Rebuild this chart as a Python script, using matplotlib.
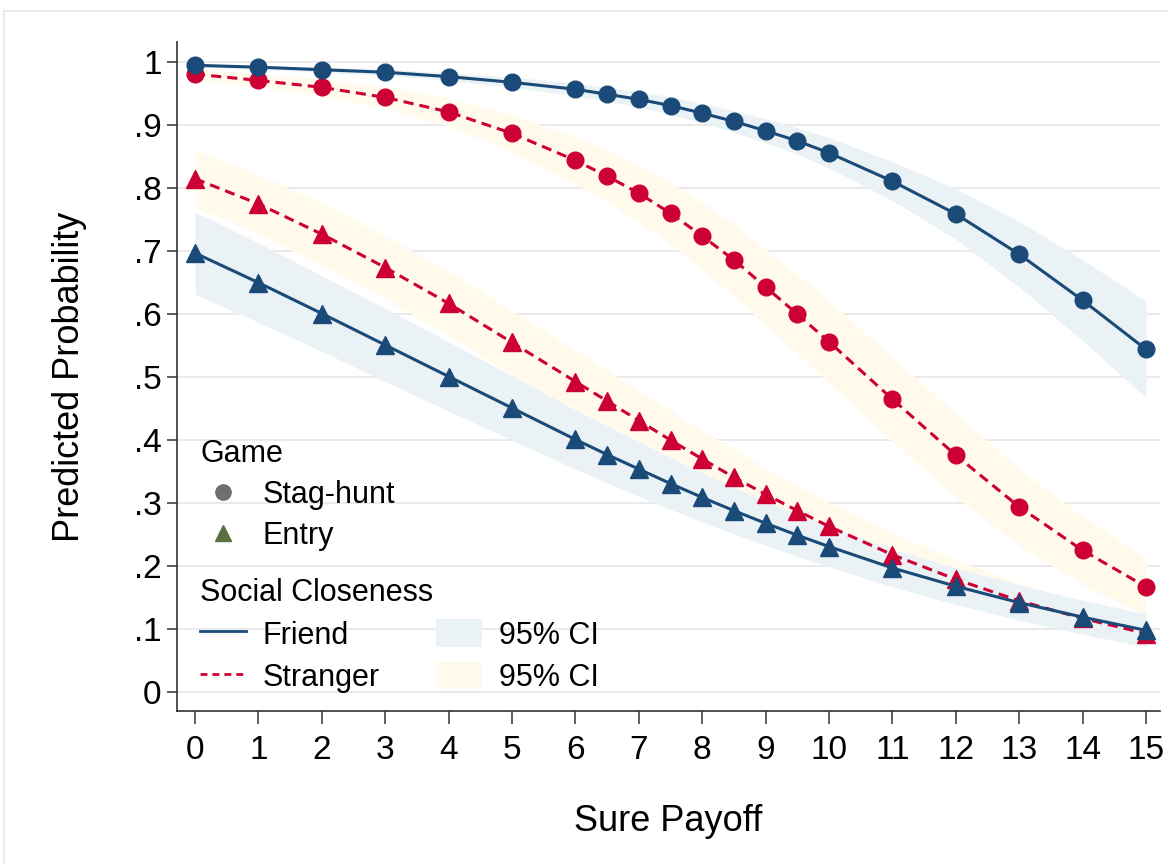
import matplotlib
matplotlib.use("Agg")
import matplotlib.pyplot as plt
from matplotlib.lines import Line2D
from matplotlib.patches import Patch
import numpy as np

plt.rcParams['font.family'] = ['Liberation Sans', 'DejaVu Sans']

# ---------------- data ----------------
sure_payoff = [0, 1, 2, 3, 4, 5, 6, 6.5, 7, 7.5, 8, 8.5, 9, 9.5, 10, 11, 12, 13, 14, 15]

stag_friend = [0.995, 0.992, 0.988, 0.984, 0.977, 0.968, 0.957, 0.949, 0.941, 0.931,
               0.919, 0.906, 0.891, 0.875, 0.856, 0.811, 0.759, 0.695, 0.622, 0.544]
stag_friend_hw = [0.003, 0.003, 0.004, 0.005, 0.006, 0.008, 0.010, 0.011, 0.012, 0.014,
                  0.015, 0.017, 0.019, 0.021, 0.024, 0.031, 0.040, 0.052, 0.064, 0.077]

stag_stranger = [0.981, 0.971, 0.960, 0.944, 0.921, 0.887, 0.844, 0.819, 0.792, 0.760,
                 0.724, 0.686, 0.643, 0.600, 0.556, 0.465, 0.376, 0.294, 0.225, 0.167]
stag_stranger_hw = [0.008, 0.010, 0.013, 0.017, 0.022, 0.029, 0.037, 0.041, 0.045, 0.049,
                    0.053, 0.057, 0.060, 0.063, 0.065, 0.067, 0.066, 0.061, 0.054, 0.046]

entry_friend = [0.697, 0.650, 0.601, 0.551, 0.501, 0.451, 0.401, 0.377, 0.354, 0.331,
                0.309, 0.288, 0.268, 0.249, 0.231, 0.197, 0.168, 0.142, 0.119, 0.098]
entry_friend_hw = [0.065, 0.063, 0.060, 0.058, 0.055, 0.051, 0.047, 0.045, 0.043, 0.041,
                   0.039, 0.037, 0.035, 0.034, 0.032, 0.030, 0.029, 0.028, 0.027, 0.026]

entry_stranger = [0.815, 0.775, 0.727, 0.674, 0.617, 0.555, 0.493, 0.462, 0.431, 0.400,
                  0.370, 0.341, 0.314, 0.288, 0.263, 0.218, 0.179, 0.145, 0.117, 0.093]
entry_stranger_hw = [0.045, 0.047, 0.049, 0.050, 0.051, 0.051, 0.050, 0.049, 0.048, 0.047,
                     0.045, 0.044, 0.042, 0.040, 0.038, 0.035, 0.031, 0.028, 0.025, 0.022]

x_ticks = list(range(0, 16))
y_ticks = [0, 0.1, 0.2, 0.3, 0.4, 0.5, 0.6, 0.7, 0.8, 0.9, 1.0]
y_tick_labels = ["0", ".1", ".2", ".3", ".4", ".5", ".6", ".7", ".8", ".9", "1"]

# ---------------- style ----------------
NAVY = "#1a4a78"
RED = "#cc0033"
BAND_BLUE = "#ebf2f6"
BAND_CREAM = "#fffaeb"

fig = plt.figure(figsize=(11.68, 8.64), dpi=100)
fig.patch.set_facecolor("white")
ax = fig.add_axes([177/1168, 1-711/864, (1160-177)/1168, (711-42)/864])

x = np.array(sure_payoff)

def band(y, hw, color, z):
    y = np.array(y); hw = np.array(hw)
    ax.fill_between(x, y - hw, y + hw, color=color, lw=0, zorder=z)

band(stag_stranger, stag_stranger_hw, BAND_CREAM, 1)
band(entry_stranger, entry_stranger_hw, BAND_CREAM, 1)
band(stag_friend, stag_friend_hw, BAND_BLUE, 2)
band(entry_friend, entry_friend_hw, BAND_BLUE, 2)

lw = 2.2
ax.plot(x, stag_friend, color=NAVY, lw=lw, marker="o", ms=12, zorder=5)
ax.plot(x, entry_friend, color=NAVY, lw=lw, marker="^", ms=12.5, zorder=5)
ax.plot(x, stag_stranger, color=RED, lw=lw, ls=(0, (3.3, 2)), marker="o", ms=12, zorder=4)
ax.plot(x, entry_stranger, color=RED, lw=lw, ls=(0, (3.3, 2)), marker="^", ms=12.5, zorder=4)

ax.set_xlim(-0.284, 15.22)
ax.set_ylim(-0.030, 1.032)
ax.set_xticks(x_ticks)
ax.set_yticks(y_ticks)
ax.set_yticklabels(y_tick_labels)
ax.yaxis.grid(True, color="#eaeaea", lw=1.5, zorder=0)
ax.set_axisbelow(True)
for s in ["top", "right"]:
    ax.spines[s].set_visible(False)
for s in ["left", "bottom"]:
    ax.spines[s].set_color("#333333")
    ax.spines[s].set_linewidth(1.2)
ax.tick_params(axis="x", length=9.5, width=1.1, color="#333333", labelsize=24, pad=8)
ax.tick_params(axis="y", length=7, width=1.1, color="#333333", labelsize=24, pad=4)

ax.set_xlabel("Sure Payoff", fontsize=26, labelpad=27)
ax.set_ylabel("Predicted Probability", fontsize=26, labelpad=34)

# legends
fs = 22
h_game = [Line2D([], [], ls="none", marker="o", ms=11, color="#6e6e6e"),
          Line2D([], [], ls="none", marker="^", ms=11, color="#5a6e3e")]
leg1 = ax.legend(h_game, ["Stag-hunt", "Entry"], title="Game", loc="upper left",
                 bbox_to_anchor=(0.011, 0.425), frameon=False, fontsize=fs, title_fontsize=fs,
                 alignment="left", handlelength=1.5, handletextpad=0.55, labelspacing=0.36,
                 borderaxespad=0)
ax.add_artist(leg1)
h_sc = [Line2D([], [], color=NAVY, lw=2),
        Line2D([], [], color=RED, lw=2, ls=(0, (2.5, 1.8))),
        Patch(facecolor=BAND_BLUE, edgecolor="none"),
        Patch(facecolor=BAND_CREAM, edgecolor="none")]
leg2 = ax.legend(h_sc, ["Friend", "Stranger", "95% CI", "95% CI"], title="Social Closeness",
                 ncol=2, loc="upper left", bbox_to_anchor=(0.011, 0.2165), frameon=False,
                 fontsize=fs, title_fontsize=fs, alignment="left", handlelength=1.5,
                 handleheight=1.0, handletextpad=0.55, labelspacing=0.36, columnspacing=1.85,
                 borderaxespad=0)

# faint outer border
fig.add_artist(Line2D([4/1168, 4/1168], [0, 1-11/864], color="#e6e6e6", lw=1.2))
fig.add_artist(Line2D([4/1168, 1], [1-11/864, 1-11/864], color="#e6e6e6", lw=1.2))

fig.savefig("out.png", dpi=100)
